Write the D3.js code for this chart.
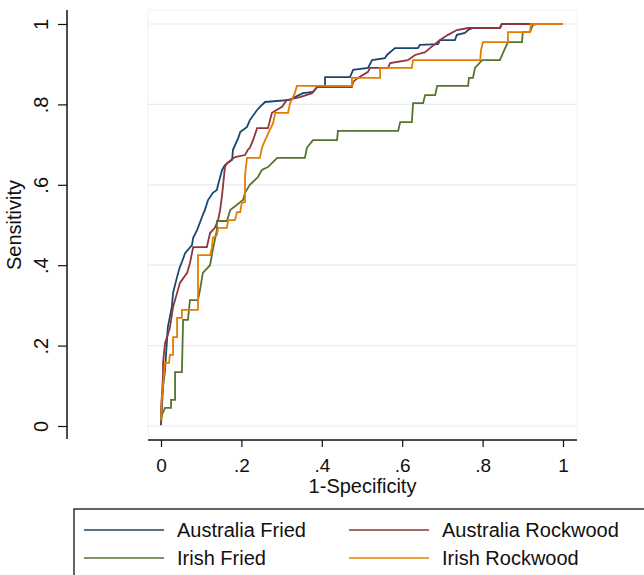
<!DOCTYPE html>
<html>
<head>
<meta charset="utf-8">
<script src="https://cdn.jsdelivr.net/npm/d3@7"></script>
<style>
  body { margin: 0; background: #fff; }
  text { font-family: "Liberation Sans", Arial, sans-serif; fill: #111; }
</style>
</head>
<body>
<div id="chart"></div>
<script>
// Series names in legend order
var seriesNames = ["Australia Fried", "Australia Rockwood", "Irish Fried", "Irish Rockwood"];

// ROC points: [1-specificity, sensitivity]
var australiaFried = [
  [0, 0.002], [0.002, 0.040], [0.005, 0.097], [0.010, 0.139], [0.017, 0.246], [0.022, 0.271],
  [0.027, 0.296], [0.030, 0.331], [0.040, 0.371], [0.047, 0.396], [0.052, 0.408], [0.060, 0.430],
  [0.077, 0.450], [0.080, 0.468], [0.090, 0.488], [0.102, 0.520], [0.109, 0.537], [0.117, 0.562],
  [0.129, 0.580], [0.139, 0.587], [0.142, 0.600], [0.152, 0.637], [0.159, 0.649], [0.177, 0.662],
  [0.179, 0.687], [0.192, 0.716], [0.197, 0.731], [0.214, 0.744], [0.221, 0.761], [0.239, 0.786],
  [0.246, 0.794], [0.259, 0.806], [0.321, 0.811], [0.333, 0.818], [0.353, 0.828], [0.378, 0.831],
  [0.391, 0.846], [0.408, 0.846], [0.408, 0.868], [0.470, 0.868], [0.478, 0.886], [0.515, 0.891],
  [0.525, 0.910], [0.557, 0.915], [0.562, 0.923], [0.582, 0.940], [0.639, 0.940], [0.644, 0.948],
  [0.689, 0.950], [0.694, 0.960], [0.731, 0.960], [0.736, 0.973], [0.756, 0.978], [0.764, 0.985],
  [0.776, 0.990], [0.843, 0.990], [0.848, 1], [1, 1]
];
var australiaRockwood = [
  [0, 0.005], [0, 0.040], [0.002, 0.072], [0.005, 0.127], [0.005, 0.157], [0.010, 0.206],
  [0.015, 0.221], [0.022, 0.244], [0.027, 0.276], [0.030, 0.296], [0.042, 0.338], [0.047, 0.356],
  [0.065, 0.381], [0.072, 0.405], [0.080, 0.445], [0.114, 0.445], [0.122, 0.480], [0.134, 0.493],
  [0.142, 0.512], [0.147, 0.537], [0.152, 0.575], [0.157, 0.624], [0.159, 0.644], [0.164, 0.654],
  [0.184, 0.669], [0.209, 0.674], [0.216, 0.687], [0.221, 0.692], [0.229, 0.711], [0.239, 0.741],
  [0.266, 0.741], [0.276, 0.779], [0.301, 0.794], [0.313, 0.811], [0.346, 0.818], [0.376, 0.828],
  [0.388, 0.843], [0.475, 0.843], [0.478, 0.856], [0.490, 0.866], [0.515, 0.881], [0.520, 0.891],
  [0.565, 0.891], [0.570, 0.903], [0.614, 0.910], [0.632, 0.923], [0.657, 0.930], [0.669, 0.940],
  [0.694, 0.960], [0.714, 0.973], [0.736, 0.985], [0.764, 0.990], [0.843, 0.990], [0.848, 1], [1, 1]
];
var irishFried = [
  [0, 0.010], [0.002, 0.027], [0.010, 0.045], [0.025, 0.045], [0.025, 0.065], [0.035, 0.065],
  [0.035, 0.134], [0.052, 0.134], [0.055, 0.264], [0.067, 0.264], [0.072, 0.313], [0.092, 0.313],
  [0.097, 0.338], [0.104, 0.381], [0.122, 0.400], [0.129, 0.438], [0.139, 0.488], [0.139, 0.510],
  [0.164, 0.510], [0.172, 0.537], [0.204, 0.562], [0.209, 0.580], [0.221, 0.600], [0.241, 0.619],
  [0.251, 0.637], [0.266, 0.644], [0.271, 0.649], [0.289, 0.667], [0.358, 0.667], [0.363, 0.692],
  [0.378, 0.711], [0.438, 0.711], [0.440, 0.734], [0.590, 0.734], [0.595, 0.756], [0.624, 0.756],
  [0.627, 0.803], [0.652, 0.803], [0.657, 0.823], [0.682, 0.823], [0.687, 0.846], [0.764, 0.846],
  [0.766, 0.866], [0.776, 0.866], [0.781, 0.891], [0.799, 0.910], [0.843, 0.910], [0.856, 0.940],
  [0.863, 0.955], [0.898, 0.955], [0.900, 0.980], [0.918, 0.980], [0.925, 0.998], [0.935, 1], [1, 1]
];
var irishRockwood = [
  [0, 0.015], [0.002, 0.065], [0.005, 0.102], [0.010, 0.157], [0.020, 0.157], [0.022, 0.177],
  [0.030, 0.177], [0.030, 0.221], [0.040, 0.221], [0.040, 0.269], [0.052, 0.269], [0.052, 0.289],
  [0.092, 0.289], [0.092, 0.425], [0.122, 0.425], [0.127, 0.445], [0.129, 0.468], [0.139, 0.475],
  [0.142, 0.493], [0.164, 0.493], [0.167, 0.512], [0.184, 0.512], [0.189, 0.532], [0.197, 0.532],
  [0.201, 0.555], [0.209, 0.557], [0.209, 0.624], [0.214, 0.667], [0.246, 0.667], [0.251, 0.692],
  [0.259, 0.711], [0.279, 0.754], [0.284, 0.779], [0.316, 0.779], [0.321, 0.803], [0.333, 0.828],
  [0.338, 0.846], [0.475, 0.846], [0.475, 0.866], [0.545, 0.866], [0.545, 0.891], [0.624, 0.891],
  [0.627, 0.910], [0.794, 0.910], [0.796, 0.935], [0.801, 0.955], [0.863, 0.955], [0.863, 0.980],
  [0.918, 0.980], [0.920, 1], [1, 1]
];

var xTicks = [0, 0.2, 0.4, 0.6, 0.8, 1];
var yTicks = [0, 0.2, 0.4, 0.6, 0.8, 1];

var seriesData = [australiaFried, australiaRockwood, irishFried, irishRockwood];

// Stata s2color-like palette
var color = d3.scaleOrdinal()
    .domain(seriesNames)
    .range(["#1a476f", "#90353b", "#55752f", "#e37e00"]);

var width = 644, height = 575;

var svg = d3.select("#chart")
    .append("svg")
    .attr("width", width)
    .attr("height", height);

// Plot region bounds
var plotLeft = 148, plotRight = 577, plotTop = 10, plotBottom = 437;

var x = d3.scaleLinear().domain([0, 1]).range([161, 563]);
var y = d3.scaleLinear().domain([0, 1]).range([426, 24]);

// Stata style labels: "0", ".2", ..., "1"
var fmt = function(d) { return d === 0 ? "0" : d === 1 ? "1" : d3.format(".1f")(d).replace(/^0/, ""); };

// plot region background
svg.append("rect")
    .attr("x", plotLeft)
    .attr("y", plotTop)
    .attr("width", plotRight - plotLeft)
    .attr("height", plotBottom - plotTop)
    .attr("fill", "#fff")
    .attr("stroke", "#eef3f5");

// gridlines
svg.append("g")
    .selectAll("line")
    .data(yTicks)
    .enter()
    .append("line")
    .attr("x1", plotLeft)
    .attr("x2", plotRight)
    .attr("y1", function(d) { return y(d); })
    .attr("y2", function(d) { return y(d); })
    .attr("stroke", "#e4edf1")
    .attr("stroke-width", 1.2);

// curves
var line = d3.line()
    .x(function(d) { return x(d[0]); })
    .y(function(d) { return y(d[1]); });

svg.append("g")
    .selectAll("path")
    .data(seriesData)
    .enter()
    .append("path")
    .attr("d", line)
    .attr("fill", "none")
    .attr("stroke", function(d, i) { return color(seriesNames[i]); })
    .attr("stroke-width", 1.8)
    .attr("stroke-linejoin", "miter");

// x axis
var xAxis = svg.append("g")
    .attr("transform", "translate(0,440)")
    .call(d3.axisBottom(x).tickValues(xTicks).tickSize(7).tickFormat(fmt));
xAxis.select(".domain").remove();
xAxis.selectAll(".tick line").attr("stroke", "#111").attr("stroke-width", 1.2);
xAxis.selectAll(".tick text")
    .attr("y", 32)
    .attr("dy", 0)
    .style("font-size", "19px")
    .style("font-family", "'Liberation Sans', Arial, sans-serif")
    .attr("fill", "#111");
xAxis.append("line")
    .attr("x1", plotLeft)
    .attr("x2", plotRight)
    .attr("stroke", "#111")
    .attr("stroke-width", 1.5);

// y axis
var yAxis = svg.append("g")
    .attr("transform", "translate(67,0)")
    .call(d3.axisLeft(y).tickValues(yTicks).tickSize(9).tickFormat(fmt));
yAxis.select(".domain").remove();
yAxis.selectAll(".tick line").attr("stroke", "#111").attr("stroke-width", 1.2);
yAxis.selectAll(".tick text")
    .attr("transform", "rotate(-90)")
    .attr("x", 0)
    .attr("y", -19)
    .attr("dy", 0)
    .attr("text-anchor", "middle")
    .style("font-size", "20px")
    .style("font-family", "'Liberation Sans', Arial, sans-serif")
    .attr("fill", "#111");
yAxis.append("line")
    .attr("y1", plotTop)
    .attr("y2", plotBottom + 2)
    .attr("stroke", "#111")
    .attr("stroke-width", 1.5);

// axis titles
svg.append("text")
    .attr("x", (plotLeft + plotRight) / 2)
    .attr("y", 493)
    .attr("text-anchor", "middle")
    .style("font-size", "20px")
    .text("1-Specificity");

svg.append("text")
    .attr("transform", "translate(21," + (y(0) + y(1)) / 2 + ") rotate(-90)")
    .attr("text-anchor", "middle")
    .style("font-size", "20px")
    .text("Sensitivity");

// legend
var legend = svg.append("g");
legend.append("rect")
    .attr("x", 74)
    .attr("y", 509)
    .attr("width", 620)
    .attr("height", 90)
    .attr("fill", "#fff")
    .attr("stroke", "#111")
    .attr("stroke-width", 1.3);

var items = legend.selectAll(".item")
    .data(seriesNames)
    .enter()
    .append("g")
    .attr("class", "item")
    .attr("transform", function(d, i) {
        return "translate(" + (i % 2 === 0 ? 84 : 349) + "," + (i < 2 ? 530 : 558) + ")";
    });

items.append("line")
    .attr("x1", 0)
    .attr("x2", 80)
    .attr("stroke", function(d) { return color(d); })
    .attr("stroke-width", 1.3);

items.append("text")
    .attr("x", 93)
    .attr("y", 7)
    .style("font-size", "20px")
    .text(function(d) { return d; });
</script>
</body>
</html>
